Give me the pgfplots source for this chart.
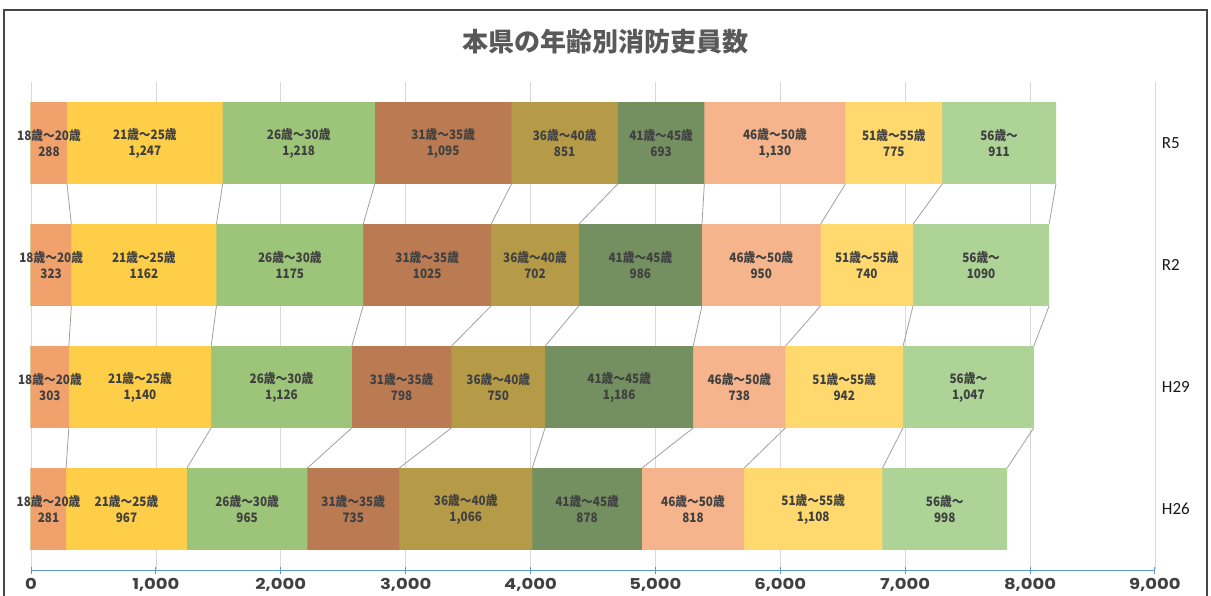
\documentclass[border=0pt]{standalone}
\usepackage{pgfplots}
\pgfplotsset{compat=1.18}
\usepackage{pgfplotstable}
\usepackage{fontspec}
\setmainfont{Noto Sans CJK JP}
\newfontfamily\jpfont{Noto Sans CJK JP}
\newfontfamily\lblfamily{Noto Sans CJK JP}[FakeStretch=0.9]
\newfontfamily\tickfont{Poppins}[FakeStretch=1.2]
\newfontfamily\catfont{Carlito}

\definecolor{g1}{RGB}{241,162,108}
\definecolor{g2}{RGB}{255,206,72}
\definecolor{g3}{RGB}{157,197,122}
\definecolor{g4}{RGB}{186,123,83}
\definecolor{g5}{RGB}{181,155,72}
\definecolor{g6}{RGB}{116,144,97}
\definecolor{g7}{RGB}{245,180,140}
\definecolor{g8}{RGB}{255,217,110}
\definecolor{g9}{RGB}{174,211,150}
\definecolor{axisblue}{RGB}{91,155,213}
\definecolor{gridgray}{RGB}{217,217,217}
\definecolor{linegray}{RGB}{160,160,160}
\definecolor{txtgray}{RGB}{64,64,64}
\definecolor{titlegray}{RGB}{89,89,89}
\definecolor{framegray}{RGB}{70,70,70}

% rows: 0=H26, 1=H29, 2=R2, 3=R5 ; a = counts, t = label text as printed
\pgfplotstableread{
yr a1  a2   a3   a4   a5   a6   a7   a8   a9   t1  t2    t3    t4    t5    t6    t7    t8    t9
0  281 967  965  735  1066 878  818  1108 998  281 967   965   735   1,066 878   818   1,108 998
1  303 1140 1126 798  750  1186 738  942  1047 303 1,140 1,126 798   750   1,186 738   942   1,047
2  323 1162 1175 1025 702  986  950  740  1090 323 1162  1175  1025  702   986   950   740   1090
3  288 1247 1218 1095 851  693  1130 775  911  288 1,247 1,218 1,095 851   693   1,130 775   911
}\data

% cumulative ends of each segment
\pgfplotstablecreatecol[expr={\thisrow{a1}}]{c1}{\data}
\pgfplotstablecreatecol[expr={\thisrow{c1}+\thisrow{a2}}]{c2}{\data}
\pgfplotstablecreatecol[expr={\thisrow{c2}+\thisrow{a3}}]{c3}{\data}
\pgfplotstablecreatecol[expr={\thisrow{c3}+\thisrow{a4}}]{c4}{\data}
\pgfplotstablecreatecol[expr={\thisrow{c4}+\thisrow{a5}}]{c5}{\data}
\pgfplotstablecreatecol[expr={\thisrow{c5}+\thisrow{a6}}]{c6}{\data}
\pgfplotstablecreatecol[expr={\thisrow{c6}+\thisrow{a7}}]{c7}{\data}
\pgfplotstablecreatecol[expr={\thisrow{c7}+\thisrow{a8}}]{c8}{\data}
\pgfplotstablecreatecol[expr={\thisrow{c8}+\thisrow{a9}}]{c9}{\data}
% shift of each boundary to the next year (for the series lines)
\pgfplotstablecreatecol[expr={0+\nextrow{c1}-\thisrow{c1}}]{d1}{\data}
\pgfplotstablecreatecol[expr={0+\nextrow{c2}-\thisrow{c2}}]{d2}{\data}
\pgfplotstablecreatecol[expr={0+\nextrow{c3}-\thisrow{c3}}]{d3}{\data}
\pgfplotstablecreatecol[expr={0+\nextrow{c4}-\thisrow{c4}}]{d4}{\data}
\pgfplotstablecreatecol[expr={0+\nextrow{c5}-\thisrow{c5}}]{d5}{\data}
\pgfplotstablecreatecol[expr={0+\nextrow{c6}-\thisrow{c6}}]{d6}{\data}
\pgfplotstablecreatecol[expr={0+\nextrow{c7}-\thisrow{c7}}]{d7}{\data}
\pgfplotstablecreatecol[expr={0+\nextrow{c8}-\thisrow{c8}}]{d8}{\data}
\pgfplotstablecreatecol[expr={0+\nextrow{c9}-\thisrow{c9}}]{d9}{\data}

\newcommand\lblfont{\lblfamily\bfseries\fontsize{13}{16}\selectfont}
\newcommand\ageBar[1]{\addplot[xbar, bar width=0.67, bar shift=0pt, fill=g#1, draw=none]
  table[x=c#1, y=yr] {\data};}
\newcommand\ageLine[1]{\addplot[quiver={u=\thisrow{d#1}, v=0.33}, draw=linegray, line width=0.8pt,
  skip coords between index={3}{4}] table[x=c#1, y expr=\thisrow{yr}+0.335] {\data};}
\newcommand\ageLabel[2]{\addplot[draw=none, mark=none, point meta=explicit symbolic,
  nodes near coords={#2\\\pgfplotspointmeta},
  every node near coord/.append style={anchor=center, align=center, font=\lblfont, text=txtgray}]
  table[x expr=\thisrow{c#1}-0.5*\thisrow{a#1}, y=yr, meta=t#1] {\data};}

\begin{document}
\begin{tikzpicture}
\useasboundingbox (-31pt,-25pt) rectangle (1180pt,570pt);
\clip (-31pt,-25pt) rectangle (1180pt,570pt);
\draw[framegray, line width=1.6pt] (-27pt,-60pt) rectangle (1176pt,560pt);
\node[font=\jpfont\bfseries\fontsize{26}{26}\selectfont, text=titlegray] at (574pt,528pt) {本県の年齢別消防吏員数};
\begin{axis}[
  at={(0pt,0pt)}, anchor=south west,
  scale only axis, width=1124pt, height=488pt,
  xmin=0, xmax=9000, ymin=-0.5, ymax=3.5,
  clip=false,
  axis x line*=bottom, axis y line*=right,
  x axis line style={-, draw=axisblue, line width=0.9pt},
  y axis line style={draw=none},
  xtick={0,1000,...,9000},
  xmajorgrids, grid style={gridgray, line width=0.6pt},
  xtick style={draw=axisblue, line width=0.9pt},
  tick align=center, major tick length=7pt,
  scaled x ticks=false,
  /pgf/number format/1000 sep={,},
  /pgf/number format/assume math mode=true,
  xticklabel style={font=\tickfont\bfseries\fontsize{15}{15}\selectfont, text=txtgray, yshift=-1.5pt},
  ytick={0,1,2,3}, yticklabels={H26,H29,R2,R5},
  yticklabel pos=right, ytick style={draw=none},
  yticklabel style={font=\catfont\fontsize{17}{17}\selectfont, text=black!90, anchor=west},
]
\ageLine{1}\ageLine{2}\ageLine{3}\ageLine{4}\ageLine{5}\ageLine{6}\ageLine{7}\ageLine{8}\ageLine{9}
\ageBar{9}\ageBar{8}\ageBar{7}\ageBar{6}\ageBar{5}\ageBar{4}\ageBar{3}\ageBar{2}\ageBar{1}
\ageLabel{1}{18歳～20歳}
\ageLabel{2}{21歳～25歳}
\ageLabel{3}{26歳～30歳}
\ageLabel{4}{31歳～35歳}
\ageLabel{5}{36歳～40歳}
\ageLabel{6}{41歳～45歳}
\ageLabel{7}{46歳～50歳}
\ageLabel{8}{51歳～55歳}
\ageLabel{9}{56歳～}
\end{axis}
\end{tikzpicture}
\end{document}
